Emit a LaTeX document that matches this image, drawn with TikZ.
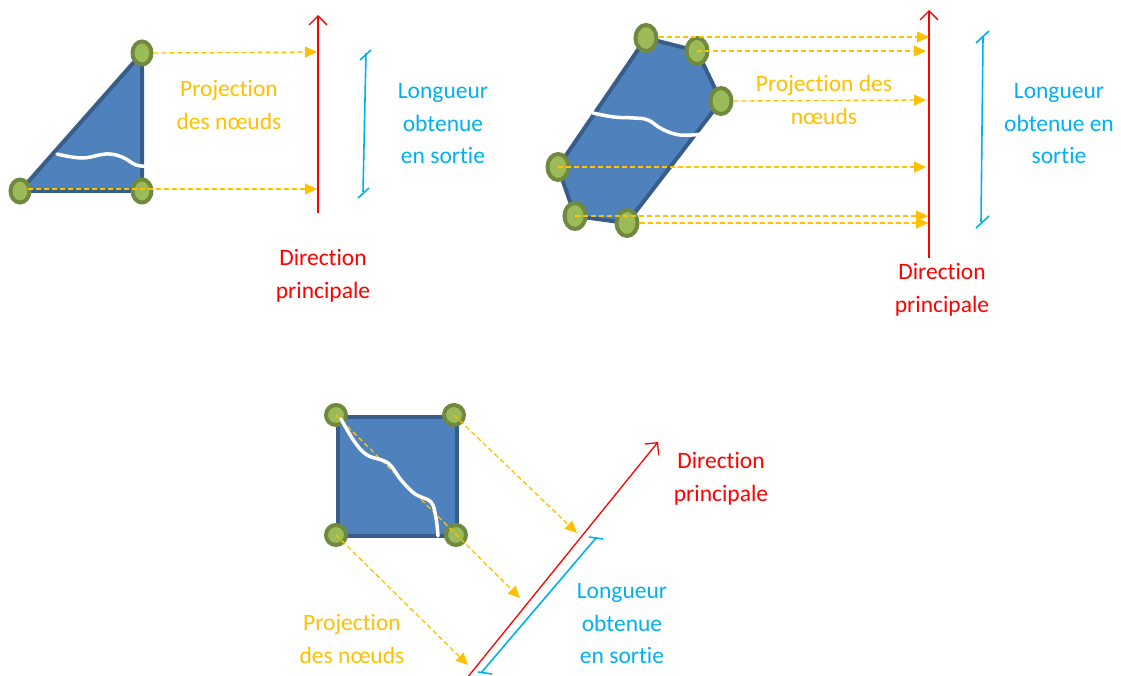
\documentclass[tikz,border=0pt]{standalone}
\usepackage{fontspec}
\setmainfont{Carlito}[Ligatures={NoCommon,NoRare}]
\usetikzlibrary{arrows.meta,shapes.geometric}
\definecolor{orng}{HTML}{FFC000}
\definecolor{cyanb}{HTML}{00B0F0}
\definecolor{redd}{HTML}{FF0000}
\definecolor{pfill}{HTML}{4F81BD}
\definecolor{pborder}{HTML}{385D8A}
\definecolor{vfill}{HTML}{9BBB59}
\definecolor{vborder}{HTML}{71893F}
\begin{document}
\begin{tikzpicture}[x=1pt,y=-1pt,
  vtx/.style={ellipse, draw=vborder, fill=vfill, line width=4pt, minimum width=19pt, minimum height=23pt, inner sep=0pt},
  vtxb/.style={vtx, minimum width=21pt, minimum height=26pt},
  vtxc/.style={vtx, minimum width=20pt, minimum height=20pt},
  poly/.style={fill=pfill, draw=pborder, line width=4pt, line join=round},
  wave/.style={white, line width=3.5pt, line cap=round},
  proj/.style={orng, line width=1.3pt, dash pattern=on 5pt off 3pt, -{Triangle[length=12pt,width=11pt]}},
  dirline/.style={redd, line width=1.3pt, -{Straight Barb[length=9pt,width=18pt]}},
  lenbar/.style={cyanb, line width=1.6pt},
  lbl/.style={font=\fontsize{23.5}{32.5}\selectfont, align=center, inner sep=0pt}]
\useasboundingbox (0,0) rectangle (1121,676);

% ---------- top left ----------
\coordinate (ta) at (142,53);
\coordinate (tb) at (20,191);
\coordinate (tc) at (142,191);
\filldraw[poly] (ta) -- (tb) -- (tc) -- cycle;
\draw[wave] plot[smooth, tension=0.7] coordinates {(57,154) (82,158) (106,154) (122,157) (136,165) (147,166)};
\node[vtx] (t1) at (ta) {};
\node[vtx] (t2) at (tb) {};
\node[vtx] (t3) at (tc) {};
\coordinate (d1s) at (318,213);
\coordinate (d1e) at (318,15);
\draw[dirline] (d1s) -- (d1e);
\coordinate (p11) at (317,52);
\coordinate (p12) at (317,189);
\draw[proj] (t1.east) -- (p11);
\draw[proj] (t2.center) ++(8,-2) coordinate (t2s) (t2s) -- (p12);
\coordinate (l1a) at (366,53);
\coordinate (l1b) at (363,192);
\draw[lenbar] (l1a) -- (l1b);
\draw[lenbar] (360,60) coordinate (l1t1) -- (371,50) coordinate (l1t2);
\draw[lenbar] (358,198) coordinate (l1t3) -- (369,188) coordinate (l1t4);
\node[lbl, text=orng] (pt1) at (229,105) {Projection\\des nœuds};
\node[lbl, text=cyanb] (lt1) at (443,124) {Longueur\\obtenue\\en sortie};
\node[lbl, text=redd] (dt1) at (323,276) {Direction\\principale};

% ---------- top right ----------
\coordinate (ra) at (646,38);
\coordinate (rb) at (697,51);
\coordinate (rc) at (721,101);
\coordinate (rd) at (558,167);
\coordinate (re) at (575,216);
\coordinate (rf) at (627,223);
\filldraw[poly] (ra) -- (rb) -- (rc) -- (rf) -- (re) -- (rd) -- cycle;
\draw[wave] plot[smooth, tension=0.7] coordinates {(593,113) (614,117) (634,118) (648,120) (662,129) (680,135) (702,134)};
\node[vtxb] (r1) at (ra) {};
\node[vtxb] (r2) at (rb) {};
\node[vtxb] (r3) at (rc) {};
\node[vtxb] (r4) at (rd) {};
\node[vtxb] (r5) at (re) {};
\node[vtxb] (r6) at (rf) {};
\coordinate (d2s) at (929,258);
\coordinate (d2e) at (929,10);
\draw[dirline] (d2s) -- (d2e);
\coordinate (p21) at (929,37);
\coordinate (p22) at (926,51);
\coordinate (p23) at (926,100);
\coordinate (p24) at (926,167);
\coordinate (p25) at (928,216);
\coordinate (p26) at (928,223);
\draw[proj] (r1.east) ++(0,-1) coordinate (r1s) (r1s) -- (p21);
\draw[proj] (r2.center) -- (p22);
\draw[proj] (r3.east) -- (p23);
\draw[proj] (r4.center) -- (p24);
\draw[proj] (r5.center) -- (p25);
\draw[proj] (r6.east) -- (p26);
\coordinate (l2a) at (983,37);
\coordinate (l2b) at (981,222);
\draw[lenbar] (l2a) -- (l2b);
\draw[lenbar] (976,43) coordinate (l2t1) -- (989,31) coordinate (l2t2);
\draw[lenbar] (976,228) coordinate (l2t3) -- (989,216) coordinate (l2t4);
\node[lbl, text=orng] (pt2) at (824,100) {Projection des\\nœuds};
\node[lbl, text=cyanb] (lt2) at (1059,124) {Longueur\\obtenue en\\sortie};
\node[lbl, text=redd] (dt2) at (942,290) {Direction\\principale};

% ---------- bottom ----------
\coordinate (sa) at (336,415);
\coordinate (sb) at (454,415);
\coordinate (sc) at (336,535);
\coordinate (sd) at (456,535);
\filldraw[poly] (338,417) rectangle (457,536);
\node[vtxc] (s1) at (sa) {};
\node[vtxc] (s2) at (sb) {};
\node[vtxc] (s3) at (sc) {};
\node[vtxc] (s4) at (sd) {};
\coordinate (d3s) at (467,678);
\coordinate (d3e) at (658,442);
\draw[dirline] (d3s) -- (d3e);
\coordinate (p31) at (577,533);
\coordinate (p32) at (520,598);
\coordinate (p33) at (468,665);
\draw[proj] (s2.center) -- (p31);
\draw[proj] (s1.center) -- (p32);
\draw[proj] (s3.center) -- (p33);
\draw[wave] plot[smooth, tension=0.6] coordinates {(341,419) (354,441) (367,455) (388,463) (401,480) (415,494) (431,502) (436,518) (438,536)};
\coordinate (l3a) at (481,673);
\coordinate (l3b) at (596,538);
\draw[lenbar] (l3a) -- (l3b);
\draw[lenbar] (589,537) coordinate (l3t1) -- (603,539) coordinate (l3t2);
\draw[lenbar] (478,672) coordinate (l3t3) -- (492,674) coordinate (l3t4);
\node[lbl, text=orng] (pt3) at (352,639) {Projection\\des nœuds};
\node[lbl, text=cyanb] (lt3) at (622,624) {Longueur\\obtenue\\en sortie};
\node[lbl, text=redd] (dt3) at (721,479) {Direction\\principale};
\end{tikzpicture}
\end{document}
